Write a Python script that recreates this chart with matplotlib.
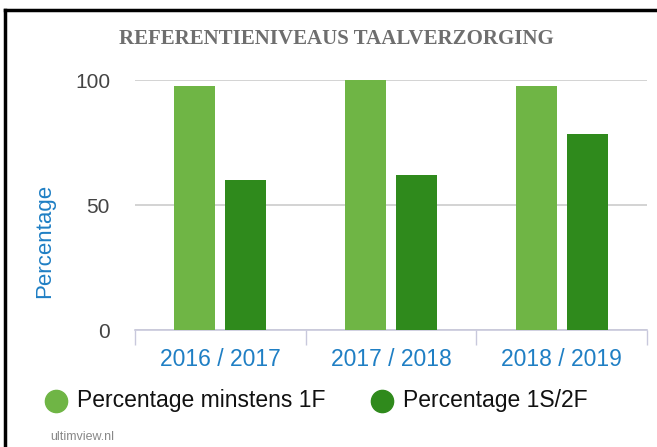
import numpy as np
import matplotlib
matplotlib.use("Agg")
from matplotlib import pyplot as plt
from matplotlib.lines import Line2D

# data
years = ["2016 / 2017", "2017 / 2018", "2018 / 2019"]
minstens_1f = [97.5, 100, 97.5]
niveau_1s2f = [60, 62, 78.5]
series_names = ["Percentage minstens 1F", "Percentage 1S/2F"]

light = "#6fb545"
dark = "#2f8a1c"
blue = "#1f7fc4"

plt.rcParams["font.family"] = ["Liberation Sans", "DejaVu Sans"]

fig = plt.figure(figsize=(6.57, 4.47), dpi=100)
ax = fig.add_axes([0.2055, 0.2617, 0.7795, 0.5593])

x = np.arange(len(years))
w = 0.24
off = 0.15
ax.bar(x - off, minstens_1f, w, color=light, zorder=3)
ax.bar(x + off, niveau_1s2f, w, color=dark, zorder=3)

ax.set_xlim(-0.5, len(years) - 0.5)
ax.set_ylim(0, 100)
ax.set_yticks([0, 50, 100])
ax.yaxis.grid(True, color="#cccccc", lw=1.2, zorder=0)
ax.tick_params(axis="y", length=0, pad=18, labelsize=15, labelcolor="#444444")

ax.set_xticks(x)
ax.set_xticklabels(years)
ax.set_xticks(np.arange(len(years) + 1) - 0.5, minor=True)
ax.tick_params(axis="x", which="major", length=0, pad=13, labelsize=16.5, labelcolor=blue)
ax.tick_params(axis="x", which="minor", length=11, width=1, color="#c8c8dc")

for s in ["top", "right", "left"]:
    ax.spines[s].set_visible(False)
ax.spines["bottom"].set_color("#c8c8dc")
ax.spines["bottom"].set_linewidth(1.2)

fig.text(0.068, 0.46, "Percentage", rotation=90, color=blue, fontsize=16,
         ha="center", va="center")

fig.text(0.512, 0.912, "REFERENTIENIVEAUS TAALVERZORGING", ha="center", va="center",
         fontsize=15, fontweight="bold", color="#6e6e6e",
         family=["Liberation Serif", "DejaVu Serif"])

# legend drawn as markers + text
fig.add_artist(Line2D([0.085], [0.103], marker="o", markersize=16, color=light,
                      transform=fig.transFigure, linestyle="none"))
fig.text(0.117, 0.103, series_names[0], fontsize=16.5, color="#111111", va="center")
fig.add_artist(Line2D([0.582], [0.103], marker="o", markersize=16, color=dark,
                      transform=fig.transFigure, linestyle="none"))
fig.text(0.613, 0.103, series_names[1], fontsize=16.5, color="#111111", va="center")

fig.text(0.076, 0.022, "ultimview.nl", fontsize=9, color="#888888", va="center")

# scanned frame
fig.add_artist(Line2D([0.008, 0.008], [0.0, 0.977], color="black", lw=2.5,
                      transform=fig.transFigure))
fig.add_artist(Line2D([0.008, 1.0], [0.977, 0.977], color="black", lw=2.5,
                      transform=fig.transFigure))

fig.savefig("out.png", dpi=100)
